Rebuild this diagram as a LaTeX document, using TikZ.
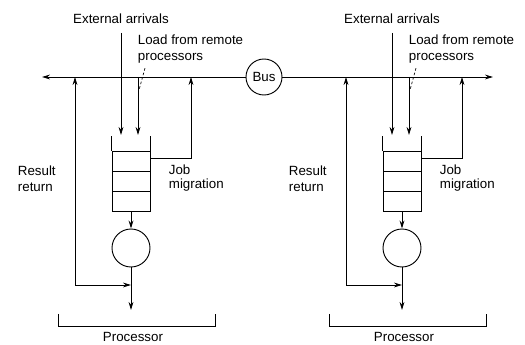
\documentclass[tikz,border=0pt]{standalone}
\usepackage{fontspec}
\setmainfont{Liberation Sans}
\usetikzlibrary{arrows.meta}

\begin{document}
\begin{tikzpicture}[x=0.75pt, y=-0.75pt, line width=0.7pt,
  flecha/.style={-{Stealth[length=6pt, width=3.6pt]}},
  dobleflecha/.style={{Stealth[length=6pt, width=3.6pt]}-{Stealth[length=6pt, width=3.6pt]}},
  guia/.style={line width=0.5pt, dash pattern=on 2pt off 1.5pt}]

\useasboundingbox (0,0) rectangle (525,345);

% Bus
\node[circle, draw, minimum size=27pt, inner sep=0pt] (bus) at (264,77) {Bus};
\coordinate (busizq) at (42,77);
\coordinate (busder) at (493,77);
\draw[flecha] (bus) -- (busizq);
\draw[flecha] (bus) -- (busder);

% Procesadores
\foreach \dx [count=\p] in {0, 271} {
\begin{scope}[xshift=\dx*0.75pt]
	% cola
	\node[draw, minimum width=28.5pt, minimum height=45pt, inner sep=0pt] (cola\p) at (131,181) {};
	\draw (cola\p.north west) -- ++(0,-15);
	\draw (cola\p.north east) -- ++(0,-15);
	\foreach \y in {171, 191}
		\draw (112,\y) -- (150,\y);

	% llegadas externas
	\node (ext\p) at (121,19) {External arrivals};
	\coordinate (llega\p) at (121,135);
	\draw[flecha] ([yshift=-3pt]ext\p.south) -- (llega\p);

	% carga remota
	\coordinate (toma\p) at (138,77);
	\coordinate (carga\p) at (138,135);
	\draw[flecha] (toma\p) -- (carga\p);
	\node[anchor=west, align=left] (rem\p) at (133,49) {Load from remote\\processors};
	\coordinate (punta\p) at (139,90);
	\draw[guia] ([xshift=9pt]rem\p.south west) -- (punta\p);

	% migracion
	\coordinate (mig\p) at (191,158);
	\draw[flecha] (cola\p.east |- mig\p) -- (mig\p) -- (mig\p |- bus);
	\node[anchor=west, align=left] (job\p) at (164,178) {Job\\[-2pt]migration};

	% servidor
	\node[circle, draw, minimum size=28.5pt, inner sep=0pt] (srv\p) at (131,248) {};
	\draw[flecha] (cola\p) -- (srv\p);
	\coordinate (junta\p) at (131,285);
	\coordinate (sale\p) at (131,310);
	\draw (srv\p) -- (junta\p);
	\draw[flecha] (junta\p) -- (sale\p);

	% retorno de resultados
	\coordinate (ret\p) at (75,285);
	\draw[dobleflecha] (ret\p |- bus) -- (ret\p) -- (junta\p);
	\node[anchor=west, align=left] (res\p) at (13,179) {Result\\return};

	% llave
	\draw (58,314) -- (58,326) -- (215,326) -- (215,314);
	\node (proc\p) at (133,337) {Processor};
\end{scope}
}
\end{tikzpicture}
\end{document}
